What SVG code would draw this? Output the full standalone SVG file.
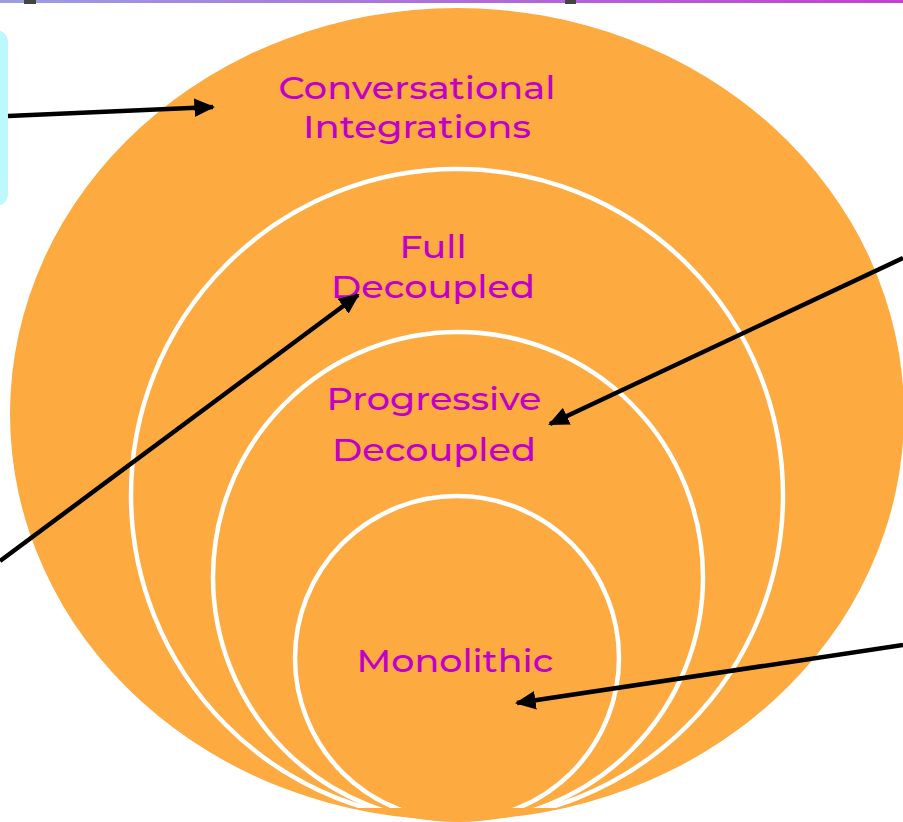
<svg xmlns="http://www.w3.org/2000/svg" width="903" height="822" viewBox="0 0 903 822">
<defs>
<linearGradient id="topg" x1="0" y1="0" x2="1" y2="0">
<stop offset="0" stop-color="#9B9DE6"/>
<stop offset="1" stop-color="#C43FCF"/>
</linearGradient>
<marker id="ah" viewBox="0 0 10 10" refX="9" refY="5" markerWidth="4.6" markerHeight="4.6" orient="auto" markerUnits="strokeWidth">
<path d="M0,0.5 L10,5 L0,9.5 z" fill="#000"/>
</marker>
<clipPath id="cl"><rect x="0" y="0" width="903" height="808"/></clipPath>
</defs>
<style>
.fill{fill:#FDAA41}
.ring{fill:none;stroke:#fff;stroke-width:4.5}
.lbl{font-family:"Montserrat","Noto Sans","Liberation Sans",sans-serif;font-size:32px;font-weight:500;fill:#C000C8;text-anchor:middle}
.conn{stroke:#000;stroke-width:4.5;fill:none;marker-end:url(#ah)}
</style>
<rect width="903" height="822" fill="#fff"/>
<rect x="0" y="0" width="903" height="3" fill="url(#topg)"/>
<rect x="24" y="0" width="12" height="4" fill="#444"/>
<rect x="565" y="0" width="11" height="4" fill="#444"/>
<rect x="-20" y="30" width="28" height="176" rx="12" fill="#BDF8FC"/>
<g id="outer">
<ellipse class="fill" cx="457" cy="414" rx="447" ry="406"/>
<text class="lbl" x="417" y="99" textLength="277" lengthAdjust="spacingAndGlyphs">Conversational</text>
<text class="lbl" x="417" y="138" textLength="228" lengthAdjust="spacingAndGlyphs">Integrations</text>
</g>
<g id="full">
<circle class="fill" cx="457" cy="495" r="326"/>
<circle class="ring" cx="457" cy="495" r="326" clip-path="url(#cl)"/>
<text class="lbl" x="433" y="258" textLength="67" lengthAdjust="spacingAndGlyphs">Full</text>
<text class="lbl" x="433" y="298" textLength="204" lengthAdjust="spacingAndGlyphs">Decoupled</text>
</g>
<g id="progressive">
<circle class="fill" cx="458" cy="577" r="245"/>
<circle class="ring" cx="458" cy="577" r="245" clip-path="url(#cl)"/>
<text class="lbl" x="434" y="410" textLength="215" lengthAdjust="spacingAndGlyphs">Progressive</text>
<text class="lbl" x="434" y="461" textLength="204" lengthAdjust="spacingAndGlyphs">Decoupled</text>
</g>
<g id="monolithic">
<circle class="fill" cx="457" cy="658" r="162"/>
<circle class="ring" cx="457" cy="658" r="162" clip-path="url(#cl)"/>
<text class="lbl" x="455" y="672" textLength="197" lengthAdjust="spacingAndGlyphs">Monolithic</text>
</g>
<g id="connectors">
<line class="conn" x1="8" y1="116" x2="213" y2="107"/>
<line class="conn" x1="0" y1="561" x2="358" y2="295"/>
<line class="conn" x1="903" y1="258" x2="550" y2="424"/>
<line class="conn" x1="903" y1="645" x2="517" y2="703"/>
</g>
</svg>
